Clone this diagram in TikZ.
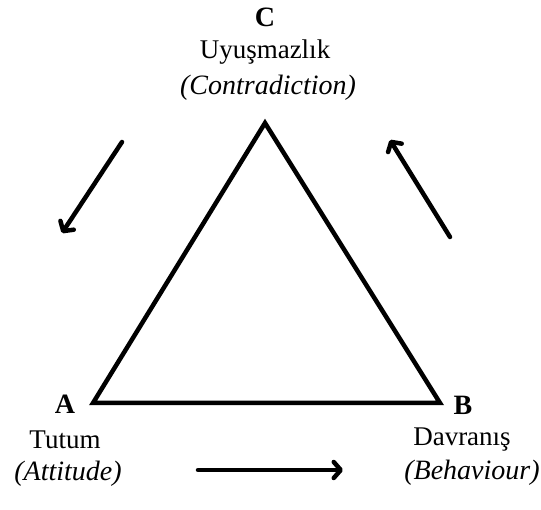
\documentclass[tikz,border=0pt]{standalone}
\usepackage{fontspec}
\setmainfont{Liberation Serif}
\usetikzlibrary{arrows.meta}
\begin{document}
\begin{tikzpicture}[x=1pt,y=-1pt,
  lbl/.style={inner sep=0pt,font=\fontsize{27}{30}\selectfont},
  bl/.style={inner sep=0pt,font=\fontsize{28}{30}\selectfont\bfseries},
  it/.style={inner sep=0pt,font=\fontsize{28}{30}\selectfont\itshape},
  edge/.style={line width=4.5pt,line join=miter},
  flow/.style={line width=4.5pt,line cap=round,-{Straight Barb[length=7pt,width=16pt,line cap=round,line join=round]}}]
\useasboundingbox (0,0) rectangle (541,510);
\coordinate (A) at (93,403);
\coordinate (B) at (440,403);
\coordinate (C) at (265,123);
\draw[edge] (A) -- (B) -- (C) -- cycle;
\node[bl] (cl) at (265,17) {C};
\node[lbl] (ct) at (265,52) {Uyuşmazlık};
\node[it] (ce) at (268,88) {(Contradiction)};
\node[bl] (al) at (65,404) {A};
\node[lbl] (at) at (65,440) {Tutum};
\node[it] (ae) at (68,474) {(Attitude)};
\node[bl] (bl) at (463,405) {B};
\node[lbl] (bt) at (462,440) {Davranış};
\node[it] (be) at (472,473) {(Behaviour)};
\coordinate (l1) at (122,142);
\coordinate (l2) at (62,233);
\coordinate (r1) at (450,237);
\coordinate (r2) at (390,140);
\coordinate (b1) at (198,470);
\coordinate (b2) at (343,470);
\draw[flow] (l1) -- (l2);
\draw[flow] (r1) -- (r2);
\draw[flow] (b1) -- (b2);
\end{tikzpicture}
\end{document}
